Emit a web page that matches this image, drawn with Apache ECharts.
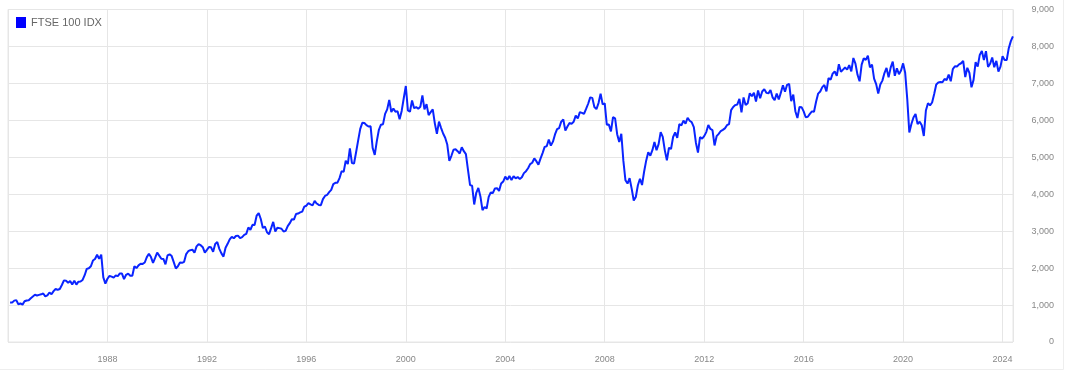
<!DOCTYPE html>
<html>
<head>
<meta charset="utf-8">
<script src="https://cdn.jsdelivr.net/npm/echarts@6/dist/echarts.min.js"></script>
<style>
  html, body { margin: 0; padding: 0; background: #ffffff; }
  #chart { width: 1067px; height: 371px; }
</style>
</head>
<body>
<div id="chart"></div>
<script>
// FTSE 100 monthly closes (month-end)
const seriesName = 'FTSE 100 IDX';
const startYear = 1984; // first value = January 1984
const ftse1980s = [
  1070, 1066, 1120, 1133, 1021, 1043, 1011, 1102, 1124, 1131, 1185, 1232,
  1277, 1258, 1275, 1291, 1314, 1234, 1260, 1339, 1293, 1376, 1440, 1413,
  1435, 1543, 1668, 1660, 1602, 1649, 1558, 1661, 1555, 1632, 1636, 1679,
  1808, 1979, 1997, 2051, 2204, 2248, 2360, 2250, 2366, 1749, 1580, 1712,
  1790, 1769, 1742, 1802, 1784, 1857, 1853, 1700, 1819, 1852, 1792, 1793,
  2052, 2002, 2075, 2119, 2114, 2152, 2297, 2387, 2299, 2142, 2276, 2422
];
const ftse1990s = [
  2337, 2255, 2247, 2103, 2345, 2375, 2326, 2162, 1990, 2050, 2149, 2143,
  2170, 2380, 2457, 2486, 2500, 2414, 2588, 2645, 2621, 2566, 2420, 2493,
  2571, 2562, 2440, 2654, 2708, 2521, 2399, 2312, 2553, 2658, 2779, 2847,
  2807, 2868, 2879, 2813, 2840, 2900, 2927, 3100, 3038, 3171, 3166, 3418,
  3491, 3328, 3086, 3126, 2970, 2919, 3082, 3251, 2992, 3095, 3082, 3066,
  2991, 3009, 3138, 3217, 3320, 3315, 3464, 3477, 3508, 3529, 3664, 3689,
  3760, 3728, 3699, 3818, 3748, 3711, 3703, 3867, 3953, 3980, 4058, 4119,
  4275, 4309, 4313, 4436, 4621, 4604, 4907, 4817, 5244, 4842, 4831, 5136,
  5458, 5767, 5932, 5928, 5871, 5833, 5837, 5249, 5064, 5438, 5744, 5883,
  5896, 6175, 6296, 6552, 6226, 6318, 6231, 6246, 6030, 6255, 6598, 6930
];
const ftse2000s = [
  6269, 6233, 6540, 6327, 6359, 6313, 6365, 6673, 6294, 6439, 6142, 6223,
  6298, 5918, 5634, 5967, 5796, 5643, 5529, 5345, 4903, 5040, 5204, 5217,
  5165, 5101, 5272, 5165, 5086, 4657, 4246, 4228, 3722, 4039, 4170, 3940,
  3567, 3656, 3613, 3927, 4049, 4031, 4157, 4162, 4091, 4288, 4343, 4477,
  4390, 4492, 4386, 4489, 4431, 4464, 4413, 4459, 4571, 4624, 4703, 4814,
  4852, 4968, 4894, 4801, 4964, 5113, 5282, 5297, 5478, 5317, 5423, 5619,
  5760, 5792, 5965, 6023, 5723, 5833, 5928, 5906, 5961, 6129, 6049, 6221,
  6203, 6172, 6308, 6449, 6621, 6608, 6360, 6303, 6467, 6722, 6432, 6457,
  5880, 5884, 5702, 6087, 6054, 5626, 5412, 5637, 4902, 4377, 4288, 4434,
  4150, 3830, 3926, 4244, 4418, 4249, 4608, 4909, 5134, 5045, 5191, 5413
];
const ftse2010s = [
  5189, 5355, 5680, 5553, 5188, 4917, 5258, 5225, 5549, 5675, 5528, 5900,
  5863, 5995, 5909, 6070, 5990, 5946, 5815, 5395, 5128, 5544, 5505, 5572,
  5682, 5872, 5768, 5738, 5321, 5571, 5635, 5711, 5742, 5783, 5867, 5898,
  6277, 6361, 6412, 6430, 6583, 6215, 6621, 6413, 6462, 6731, 6651, 6749,
  6510, 6810, 6598, 6780, 6845, 6744, 6730, 6820, 6623, 6546, 6723, 6566,
  6749, 6947, 6773, 6961, 6984, 6521, 6696, 6248, 6062, 6361, 6356, 6242,
  6084, 6097, 6175, 6242, 6231, 6504, 6724, 6782, 6899, 6954, 6784, 7143,
  7099, 7263, 7323, 7204, 7520, 7313, 7372, 7431, 7373, 7493, 7327, 7688,
  7534, 7232, 7057, 7509, 7678, 7637, 7749, 7432, 7510, 7128, 6980, 6728,
  6969, 7075, 7279, 7418, 7162, 7426, 7587, 7207, 7408, 7248, 7347, 7542
];
const ftse2020s = [
  7286, 6581, 5672, 5901, 6077, 6170, 5898, 5964, 5866, 5577, 6266, 6461,
  6407, 6483, 6714, 6970, 7023, 7037, 7032, 7120, 7086, 7238, 7059, 7385,
  7464, 7458, 7516, 7545, 7608, 7169, 7423, 7284, 6894, 7095, 7573, 7452,
  7772, 7876, 7632, 7871, 7446, 7532, 7699, 7439, 7608, 7322, 7454, 7733,
  7631, 7630, 7953, 8144, 8275
];
const xTickLabels = ['1988', '1992', '1996', '2000', '2004', '2008', '2012', '2016', '2020', '2024'];
const yTickLabels = ['0', '1,000', '2,000', '3,000', '4,000', '5,000', '6,000', '7,000', '8,000', '9,000'];

const allValues = [].concat(ftse1980s, ftse1990s, ftse2000s, ftse2010s, ftse2020s);
// each value sits at the end of its month (fractional year)
const seriesData = allValues.map((v, i) => [startYear + (i + 1) / 12, v]);

const chart = echarts.init(document.getElementById('chart'), null, { renderer: 'canvas' });
const font = '"Liberation Sans", Arial, sans-serif';
const gridColor = '#e6e6e6';
const lineColor = '#0a24ff';

chart.setOption({
  animation: false,
  backgroundColor: '#ffffff',
  textStyle: { fontFamily: font },
  graphic: [{
    type: 'polyline',
    silent: true,
    shape: { points: [[1063.5, 0], [1063.5, 369.5], [0, 369.5]] },
    style: { stroke: '#eeeeee', lineWidth: 1, fill: null }
  }],
  legend: {
    data: [{ name: seriesName, icon: 'rect', itemStyle: { color: '#0000ff' } }],
    left: 16,
    top: 17,
    padding: 0,
    itemWidth: 10,
    itemHeight: 11,
    itemGap: 10,
    textStyle: { fontSize: 11, color: '#666666', fontFamily: font },
    selectedMode: false
  },
  grid: {
    left: 8, right: 54, top: 9.5, bottom: 29,
    show: true, borderColor: gridColor, borderWidth: 1, backgroundColor: 'transparent'
  },
  xAxis: {
    type: 'value',
    min: startYear,
    max: 2024.42,
    interval: 4,
    axisLine: { show: false },
    axisTick: { show: false },
    splitLine: { show: true, lineStyle: { color: gridColor, width: 1 } },
    axisLabel: {
      show: true,
      margin: 13,
      fontSize: 9,
      color: '#888888',
      fontFamily: font,
      showMinLabel: false,
      showMaxLabel: false,
      formatter: function (v) {
        const s = String(Math.round(v));
        return (Math.abs(v - Math.round(v)) < 1e-6 && xTickLabels.indexOf(s) >= 0) ? s : '';
      }
    }
  },
  yAxis: {
    type: 'value',
    position: 'right',
    min: 0,
    max: 9000,
    interval: 1000,
    axisLine: { show: false },
    axisTick: { show: false },
    splitLine: { show: true, lineStyle: { color: gridColor, width: 1 } },
    axisLabel: {
      margin: 41,
      align: 'right',
      fontSize: 9,
      color: '#888888',
      fontFamily: font,
      formatter: function (v) { return yTickLabels[Math.round(v / 1000)] || ''; }
    }
  },
  series: [{
    name: seriesName,
    type: 'line',
    data: seriesData,
    showSymbol: false,
    symbol: 'none',
    smooth: false,
    lineStyle: { color: lineColor, width: 2 },
    itemStyle: { color: lineColor }
  }]
});
</script>
</body>
</html>
